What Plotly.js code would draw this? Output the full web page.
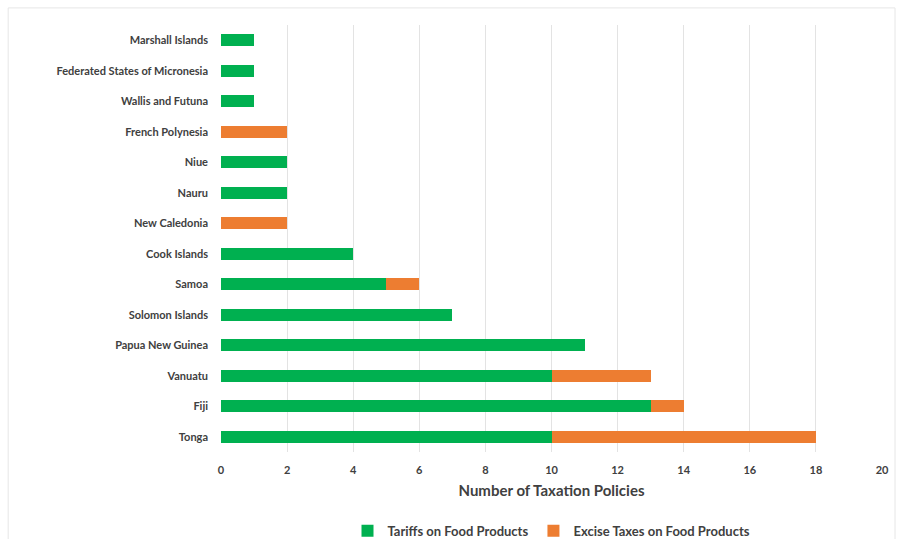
<!DOCTYPE html>
<html>
<head>
<meta charset="utf-8">
<script src="https://cdn.plot.ly/plotly-3.0.1.min.js"></script>
<style>html,body{margin:0;padding:0;background:#fff;}#chart{width:897px;height:539px;}</style>
</head>
<body>
<div id="chart"></div>
<script>
const countries = ["Marshall Islands","Federated States of Micronesia","Wallis and Futuna","French Polynesia","Niue","Nauru","New Caledonia","Cook Islands","Samoa","Solomon Islands","Papua New Guinea","Vanuatu","Fiji","Tonga"];
const tariffs = [1,1,1,0,2,2,0,4,5,7,11,10,13,10];
const excise = [0,0,0,2,0,0,2,0,1,0,0,3,1,8];
const xTicks = [0,2,4,6,8,10,12,14,16,18,20];

const font = {family: "Lato, 'Open Sans', sans-serif", size: 11, color: "#404040", weight: 700};

const traces = [
  {type: "bar", orientation: "h", name: "Tariffs on Food Products", y: countries, x: tariffs,
   marker: {color: "#00b050"}, width: 0.4},
  {type: "bar", orientation: "h", name: "Excise Taxes on Food Products", y: countries, x: excise,
   marker: {color: "#ed7d31"}, width: 0.4}
];

const layout = {
  width: 897, height: 539,
  barmode: "stack",
  margin: {l: 221, r: 15, t: 25, b: 87, autoexpand: false},
  paper_bgcolor: "#fff", plot_bgcolor: "#fff",
  font: font,
  showlegend: true,
  legend: {orientation: "h", x: 0.5, xanchor: "center", xref: "paper", y: 0.015, yref: "container", yanchor: "middle",
           font: {family: font.family, size: 13, color: "#404040", weight: 700}, traceorder: "normal",
           itemwidth: 30, bgcolor: "rgba(0,0,0,0)"},
  xaxis: {range: [0, 20], tickvals: xTicks, ticktext: xTicks.map(String), automargin: false,
          showgrid: true, gridcolor: "#e3e3e3", gridwidth: 1, zeroline: false,
          showline: false, ticks: "outside", ticklen: 8, tickcolor: "rgba(0,0,0,0)", tickfont: font,
          title: {text: "Number of Taxation Policies", font: {family: font.family, size: 15, color: "#404040", weight: 700}, standoff: 10}},
  yaxis: {categoryorder: "array", categoryarray: countries, autorange: "reversed", automargin: false,
          showgrid: false, zeroline: false, showline: false, ticks: "", ticklabelstandoff: 12,
          tickfont: font},
  shapes: [{type: "rect", xref: "paper", yref: "paper", x0: -0.322, x1: 1.0197, y0: -0.23, y1: 1.04,
            line: {color: "#e6e6e6", width: 1}, layer: "below"}]
};

Plotly.newPlot("chart", traces, layout, {displayModeBar: false, staticPlot: true});
</script>
</body>
</html>
